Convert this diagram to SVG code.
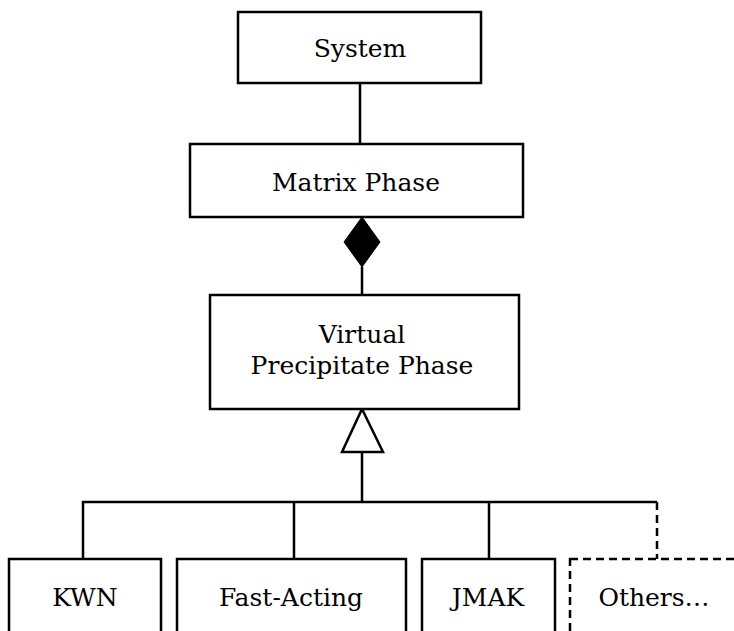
<svg xmlns="http://www.w3.org/2000/svg" width="734" height="631" viewBox="0 0 734 631">
<style>
.box{fill:#fff;stroke:#000;stroke-width:2.5}
.dash{fill:#fff;stroke:#000;stroke-width:2.5;stroke-dasharray:8 5}
.ln{fill:none;stroke:#000;stroke-width:2.5}
text{font-family:"DejaVu Serif","Liberation Serif",serif;font-size:25px;fill:#000;text-anchor:middle}
</style>
<rect width="734" height="631" fill="#fff"/>
<g id="connectors">
<line class="ln" x1="360" y1="83" x2="360" y2="144"/>
<line class="ln" x1="362" y1="267" x2="362" y2="295"/>
<polygon points="362,217 380,242 362,267 344,242" fill="#000" stroke="#000" stroke-width="1"/>
<line class="ln" x1="362" y1="452" x2="362" y2="502"/>
<polygon points="362,409 383,452 342,452" fill="#fff" stroke="#000" stroke-width="2.5"/>
<polyline class="ln" points="83,559 83,502 657,502"/>
<line class="ln" x1="294" y1="502" x2="294" y2="559"/>
<line class="ln" x1="489" y1="502" x2="489" y2="559"/>
<line class="ln" x1="657" y1="502" x2="657" y2="559" stroke-dasharray="8 5"/>
</g>
<g id="system"><rect class="box" x="238" y="12" width="243" height="71"/><text x="360" y="57">System</text></g>
<g id="matrix"><rect class="box" x="190" y="144" width="333" height="73"/><text x="356" y="191">Matrix Phase</text></g>
<g id="virtual"><rect class="box" x="210" y="295" width="309" height="114"/><text x="362" y="343">Virtual</text><text x="362" y="374">Precipitate Phase</text></g>
<g id="kwn"><rect class="box" x="9" y="559" width="152" height="90"/><text x="85" y="606">KWN</text></g>
<g id="fast"><rect class="box" x="177" y="559" width="229" height="90"/><text x="291" y="606">Fast-Acting</text></g>
<g id="jmak"><rect class="box" x="422" y="559" width="133" height="90"/><text x="488" y="606">JMAK</text></g>
<g id="others"><rect class="dash" x="570" y="559" width="180" height="90"/><text x="654" y="606">Others…</text></g>
</svg>
